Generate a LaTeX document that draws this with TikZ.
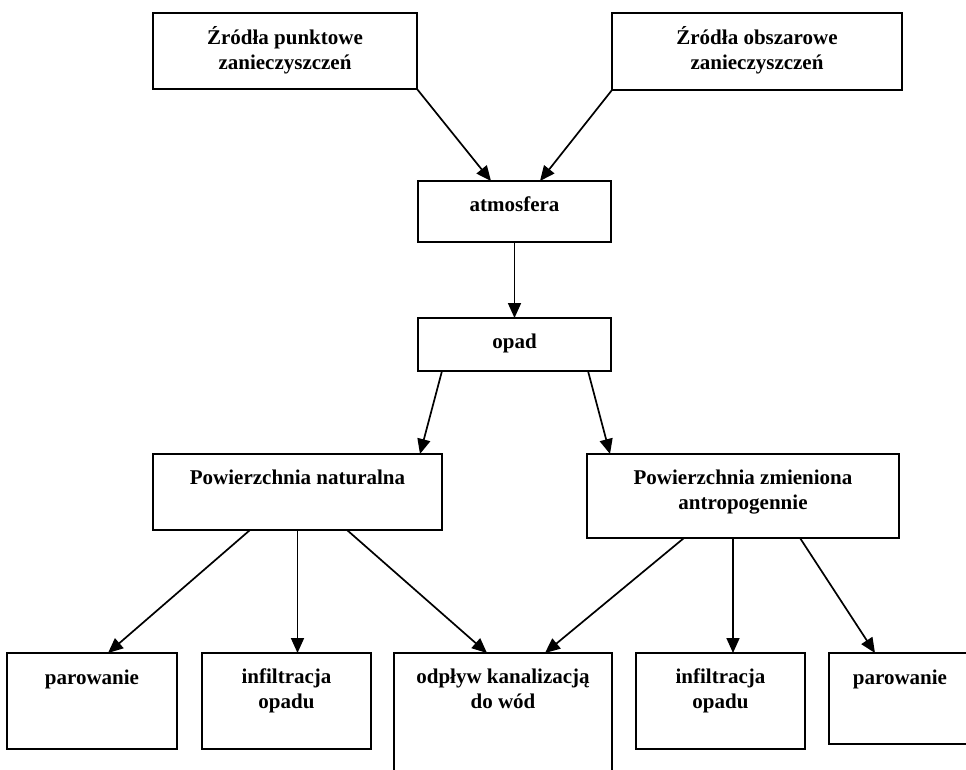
\documentclass[tikz,border=0pt]{standalone}
\usepackage{fontspec}
\setmainfont{Liberation Serif}
\usetikzlibrary{positioning,arrows.meta}

\begin{document}
\begin{tikzpicture}[x=1pt, y=-1pt,
    box/.style={rectangle, draw=black, line width=2.2pt, inner sep=0pt, outer sep=0pt},
    txt/.style={font=\fontsize{21}{25}\selectfont\bfseries, align=center, inner sep=0pt},
    arrow/.style={draw, line width=1.7pt, -{Triangle[length=15pt, width=13pt]}}
]
    \clip (0,0) rectangle (966,769);

    % Sources
    \node[box, minimum width=264pt, minimum height=76pt] (src1) at (285,51) {};
    \node[box, minimum width=290pt, minimum height=77pt] (src2) at (757,51.5) {};
    \node[txt, below=13pt of src1.north] (src1txt) {Źródła punktowe\\zanieczyszczeń};
    \node[txt, below=13pt of src2.north] (src2txt) {Źródła obszarowe\\zanieczyszczeń};

    % Atmosphere and precipitation
    \node[box, minimum width=193pt, minimum height=61pt] (atm) at (514.5,211.5) {};
    \node[box, minimum width=193pt, minimum height=53pt, below=76pt of atm] (opad) {};
    \node[txt, below=16pt of atm.north] (atmtxt) {atmosfera};
    \node[txt, below=16pt of opad.north] (opadtxt) {opad};

    % Surfaces
    \node[box, minimum width=289pt, minimum height=76pt] (nat) at (297.5,492) {};
    \node[box, minimum width=312pt, minimum height=84pt] (zm) at (743,496) {};
    \node[txt, below=16pt of nat.north] (nattxt) {Powierzchnia naturalna};
    \node[txt, below=16pt of zm.north] (zmtxt) {Powierzchnia zmieniona\\antropogennie};

    % Outflows
    \node[box, minimum width=170pt, minimum height=96pt] (par1) at (92,701) {};
    \node[box, minimum width=169pt, minimum height=96pt, right=25pt of par1] (inf1) {};
    \node[box, minimum width=218pt, minimum height=140pt, right=23pt of inf1.north east, anchor=north west] (odp) {};
    \node[box, minimum width=169pt, minimum height=96pt, right=24pt of odp.north east, anchor=north west] (inf2) {};
    \node[box, minimum width=142pt, minimum height=91pt, right=24pt of inf2.north east, anchor=north west] (par2) {};
    \node[txt, below=17pt of par1.north] (par1txt) {parowanie};
    \node[txt, below=16pt of inf1.north] (inf1txt) {infiltracja\\opadu};
    \node[txt, below=16pt of odp.north] (odptxt) {odpływ kanalizacją\\do wód};
    \node[txt, below=16pt of inf2.north] (inf2txt) {infiltracja\\opadu};
    \node[txt, below=17pt of par2.north] (par2txt) {parowanie};

    % Connections
    \coordinate (zmout) at ([xshift=-10pt]zm.south);
    \path [arrow] (src1.south east) -- ([xshift=-23.5pt]atm.north);
    \path [arrow] (src2.south west) -- ([xshift=25.5pt]atm.north);
    \path [arrow] (atm) -- (opad);
    \path [arrow] ([xshift=-72.5pt]opad.south) -- ([xshift=122.5pt]nat.north);
    \path [arrow] ([xshift=73.5pt]opad.south) -- ([xshift=-133pt]zm.north);

    \path [arrow] ([xshift=-47.5pt]nat.south) -- ([xshift=16pt]par1.north);
    \path [arrow] (nat.south) -- (nat.south |- inf1.north);
    \path [arrow] ([xshift=49.5pt]nat.south) -- ([xshift=-16pt]odp.north);
    \path [arrow] ([xshift=-59pt]zm.south) -- ([xshift=42pt]odp.north);
    \path [arrow] (zmout) -- (zmout |- inf2.north);
    \path [arrow] ([xshift=57pt]zm.south) -- ([xshift=-25pt]par2.north);

\end{tikzpicture}
\end{document}
